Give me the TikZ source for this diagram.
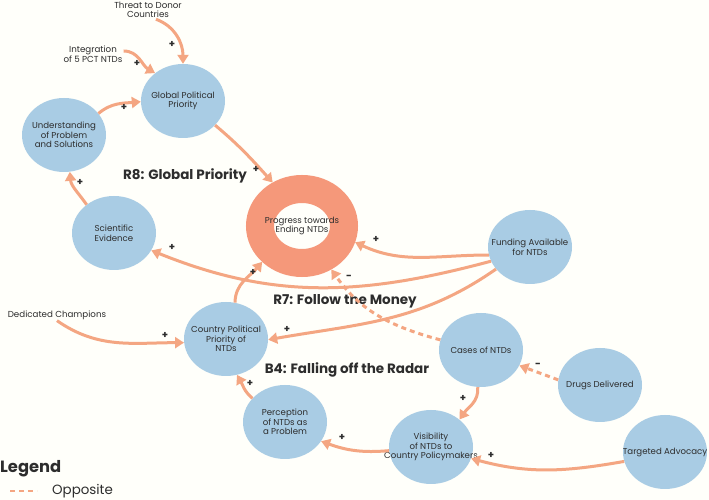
\documentclass[tikz,border=0pt]{standalone}
\usepackage{fontspec}
\setmainfont{Poppins}
\usetikzlibrary{shapes.geometric,arrows.meta,positioning,backgrounds}
\definecolor{nodeblue}{RGB}{169,204,228}
\definecolor{linkorange}{RGB}{244,166,130}
\definecolor{ringorange}{RGB}{245,152,122}
\definecolor{txtgray}{RGB}{45,45,45}

\tikzset{
  var/.style={ellipse, fill=nodeblue, minimum width=84pt, minimum height=74pt,
    inner xsep=-30pt, inner ysep=0pt, align=center, text=txtgray,
    font=\fontsize{8.6}{9.6}\selectfont},
  ext/.style={align=center, inner sep=1pt, text=txtgray, font=\fontsize{8.7}{9.6}\selectfont},
  loopname/.style={text=txtgray, font=\bfseries\fontsize{13.5}{15}\selectfont},
  sgn/.style={inner sep=0pt, text=txtgray, font=\bfseries\fontsize{10}{10}\selectfont},
  link/.style={draw=linkorange, line width=3pt, -{Triangle[length=9pt,width=11pt]}},
  opp/.style={link, dash pattern=on 5pt off 4pt},
}

\begin{document}
\begin{tikzpicture}[x=1pt, y=1pt]
  \fill[white!98!yellow] (0,0) rectangle (709,500);
  \useasboundingbox (0,0) rectangle (709,500);

  % variables
  \node[var] (glob) at (183,399) {Global Political\\Priority};
  \node[var] (und) at (64,365) {Understanding\\of Problem\\and Solutions};
  \node[var] (sci) at (114,267) {Scientific\\Evidence};
  \node[ellipse, draw=ringorange, line width=28pt, minimum width=84pt, minimum height=74pt,
    inner xsep=-30pt, inner ysep=0pt, align=center, text=txtgray,
    font=\fontsize{8.6}{9.6}\selectfont]
    (prog) at (302,274) {Progress towards\\Ending NTDs};
  \node[var] (fund) at (530,253) {Funding Available\\for NTDs};
  \node[var] (cpp) at (226,161) {Country Political\\Priority of\\NTDs};
  \node[var] (perc) at (285,78) {Perception\\of NTDs as\\a Problem};
  \node[var] (cases) at (481,150) {Cases of NTDs};
  \node[var] (drugs) at (600,115) {Drugs Delivered};
  \node[var] (vis) at (431,53) {Visibility\\of NTDs to\\Country Policymakers};
  \node[var] (adv) at (665,48) {Targeted Advocacy};

  % outside drivers
  \node[ext] (threat) at (148,490) {Threat to Donor\\Countries};
  \node[ext] (integ) at (93,446) {Integration\\of 5 PCT NTDs};
  \node[ext] (champ) at (57,185) {Dedicated Champions};

  % loop names
  \node[loopname] (r8) at (185,324) {R8: Global Priority};
  \node[loopname] (r7) at (345,199) {R7: Follow the Money};
  \node[loopname] (b4) at (347,130) {B4: Falling off the Radar};

  % links
  \draw[link] ([xshift=8pt]threat.south) to[out=-20, in=90] (glob.north);
  \draw[link] ([yshift=3pt]integ.east) to[out=0, in=150] (glob.135);
  \draw[link] (und.32) to[out=40, in=185] (glob.181);
  \draw[link] (glob.-37) to[out=-40, in=132] (prog.124);
  \draw[link] (sci.134) to[out=125, in=-85] (und.-81);
  \draw[link] (fund.191) to[out=180, in=-25] (prog.-17);
  \draw[link] (fund.200) to[out=195, in=-22] (sci.-25);
  \draw[link] (fund.213) to[out=215, in=10] (cpp.-1);
  \draw[link] (cpp.76) to[out=90, in=-130] (prog.222);
  \draw[opp] (cases.166) to[out=165, in=-55] (prog.-56);
  \draw[opp] (drugs.173) -- (cases.-22);
  \draw[link] (cases.-95) to[out=-85, in=55] (vis.44);
  \draw[link] (adv.193) to[out=190, in=-15] (vis.-16);
  \draw[link] (vis.185) to[out=185, in=-20] (perc.-28);
  \draw[link] (perc.144) to[out=140, in=-60] (cpp.-73);
  \draw[link] (champ.south) to[out=-35, in=180] (cpp.185);

  % polarities
  \node[sgn] (s1) at (172,456) {+};
  \node[sgn] (s2) at (137,437) {+};
  \node[sgn] (s3) at (124,393) {+};
  \node[sgn] (s4) at (256,331) {+};
  \node[sgn] (s5) at (80,318) {+};
  \node[sgn] (s6) at (376,261) {+};
  \node[sgn] (s7) at (172,253) {+};
  \node[sgn] (s8) at (287,171) {+};
  \node[sgn] (s9) at (253,228) {+};
  \node[sgn] (s10) at (349,223) {-};
  \node[sgn] (s11) at (538,135) {-};
  \node[sgn] (s12) at (463,102) {+};
  \node[sgn] (s13) at (491,45) {+};
  \node[sgn] (s14) at (342,63) {+};
  \node[sgn] (s15) at (250,117) {+};
  \node[sgn] (s16) at (165,165) {+};

  % legend
  \node[anchor=west, inner sep=0pt, text=txtgray, font=\bfseries\fontsize{16.3}{18}\selectfont]
    (legend) at (0,31) {Legend};
  \node[anchor=west, inner sep=0pt, text=txtgray, font=\fontsize{13.4}{15}\selectfont]
    (oppo) at (52,9) {Opposite};
  \coordinate (dash1) at (10,9);
  \draw[draw=linkorange, line width=2pt, dash pattern=on 5pt off 4pt] (dash1) -- ++(27,0);
\end{tikzpicture}
\end{document}
